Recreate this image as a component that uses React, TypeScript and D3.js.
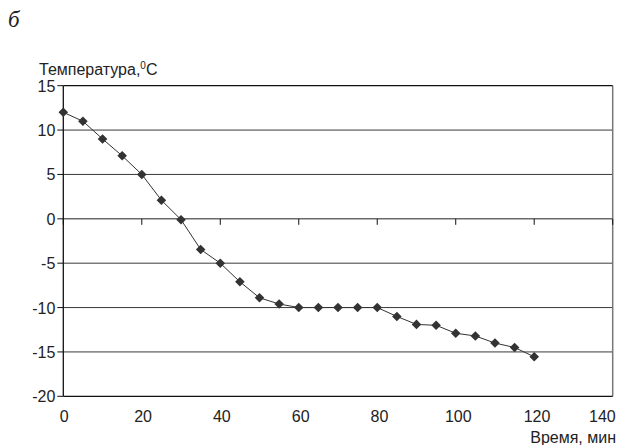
import React, { useEffect, useRef } from 'react';
import * as d3 from 'd3';

// Time, minutes
const times = [0, 5, 10, 15, 20, 25, 30, 35, 40, 45, 50, 55, 60, 65, 70, 75, 80, 85, 90, 95, 100, 105, 110, 115, 120];
// Temperature, °C
const temps = [12, 11, 9, 7.1, 5, 2.1, -0.1, -3.45, -5, -7.1, -8.9, -9.6, -10, -10, -10, -10, -10, -11, -11.9, -12, -12.9, -13.2, -14, -14.5, -15.55];

const xTicks = [0, 20, 40, 60, 80, 100, 120, 140];
const yTicks = [15, 10, 5, 0, -5, -10, -15, -20];

const width = 623;
const height = 445;

const App = () => {
  const ref = useRef<SVGSVGElement>(null);

  useEffect(() => {
    if (!ref.current) return;
    const svg = d3.select(ref.current);
    svg.selectAll('*').remove();

    const font = '"Liberation Sans", Arial, sans-serif';
    const x = d3.scaleLinear().domain([0, 140]).range([63.3, 612.7]);
    const y = d3.scaleLinear().domain([-20, 15]).range([396.3, 85.7]);

    // panel label
    svg.append('text')
      .attr('x', 8)
      .attr('y', 27)
      .style('font-family', '"Liberation Serif", "DejaVu Serif", serif')
      .style('font-style', 'italic')
      .style('font-size', '23px')
      .style('fill', '#222')
      .text('б');

    // horizontal gridlines
    svg.append('g')
      .selectAll('line')
      .data(yTicks.filter(v => v !== 15 && v !== -20))
      .enter()
      .append('line')
      .attr('x1', x(0))
      .attr('x2', x(140))
      .attr('y1', d => y(d))
      .attr('y2', d => y(d))
      .attr('stroke', d => (d === 0 ? '#6a6a6a' : '#3a3a3a'))
      .attr('stroke-width', d => (d === 0 ? 1.5 : 1));

    // right border
    svg.append('line')
      .attr('x1', x(140)).attr('x2', x(140))
      .attr('y1', y(15)).attr('y2', y(-20))
      .attr('stroke', '#777')
      .attr('stroke-width', 1.5);

    // top and bottom frame lines
    [15, -20].forEach(v => {
      svg.append('line')
        .attr('x1', x(0)).attr('x2', x(140))
        .attr('y1', y(v)).attr('y2', y(v))
        .attr('stroke', '#111')
        .attr('stroke-width', 1.3);
    });

    // y axis
    svg.append('line')
      .attr('x1', x(0)).attr('x2', x(0))
      .attr('y1', y(15)).attr('y2', y(-20))
      .attr('stroke', '#111')
      .attr('stroke-width', 1.3);

    const yAxis = svg.append('g');
    yTicks.forEach(v => {
      yAxis.append('line')
        .attr('x1', x(0) - 6).attr('x2', x(0))
        .attr('y1', y(v)).attr('y2', y(v))
        .attr('stroke', '#111');
      yAxis.append('text')
        .attr('x', x(0) - 8)
        .attr('y', y(v) + 6)
        .attr('text-anchor', 'end')
        .style('font-family', font)
        .style('font-size', '16px')
        .style('fill', '#222')
        .text(v);
    });

    // x ticks on the zero line
    const xAxis = svg.append('g');
    xTicks.forEach((v, i) => {
      xAxis.append('line')
        .attr('x1', x(v)).attr('x2', x(v))
        .attr('y1', y(0)).attr('y2', y(0) + 6)
        .attr('stroke', '#111');
      const last = i === xTicks.length - 1;
      xAxis.append('text')
        .attr('x', last ? x(v) + 3 : x(v) + 1 + i * 0.3)
        .attr('y', 421.5)
        .attr('text-anchor', last ? 'end' : 'middle')
        .style('font-family', font)
        .style('font-size', '16px')
        .style('fill', '#222')
        .text(v);
    });

    // axis titles
    const yTitle = svg.append('text')
      .attr('x', 39)
      .attr('y', 75)
      .style('font-family', font)
      .style('font-size', '16px')
      .style('fill', '#222');
    yTitle.append('tspan').text('Температура,');
    yTitle.append('tspan')
      .attr('dy', -6)
      .style('font-size', '10px')
      .text('0');
    yTitle.append('tspan')
      .attr('dy', 6)
      .text('C');

    svg.append('text')
      .attr('x', 616)
      .attr('y', 443)
      .attr('text-anchor', 'end')
      .style('font-family', font)
      .style('font-size', '16px')
      .style('fill', '#222')
      .text('Время, мин');

    // data line
    const data = times.map((t, i) => ({ t, v: temps[i] }));
    const line = d3.line<{ t: number; v: number }>()
      .x(d => x(d.t))
      .y(d => y(d.v));
    svg.append('path')
      .datum(data)
      .attr('d', line)
      .attr('fill', 'none')
      .attr('stroke', '#333')
      .attr('stroke-width', 1);

    // diamond markers
    const marker = d3.symbol().type(d3.symbolSquare).size(46);
    svg.append('g')
      .selectAll('path')
      .data(data)
      .enter()
      .append('path')
      .attr('d', marker)
      .attr('transform', d => `translate(${x(d.t)},${y(d.v)}) rotate(45)`)
      .attr('fill', '#333');
  }, []);

  return (
    <svg
      ref={ref}
      width={width}
      height={height}
      style={{ position: 'absolute', left: 0, top: 0, background: '#fff' }}
    />
  );
};

export default App;
